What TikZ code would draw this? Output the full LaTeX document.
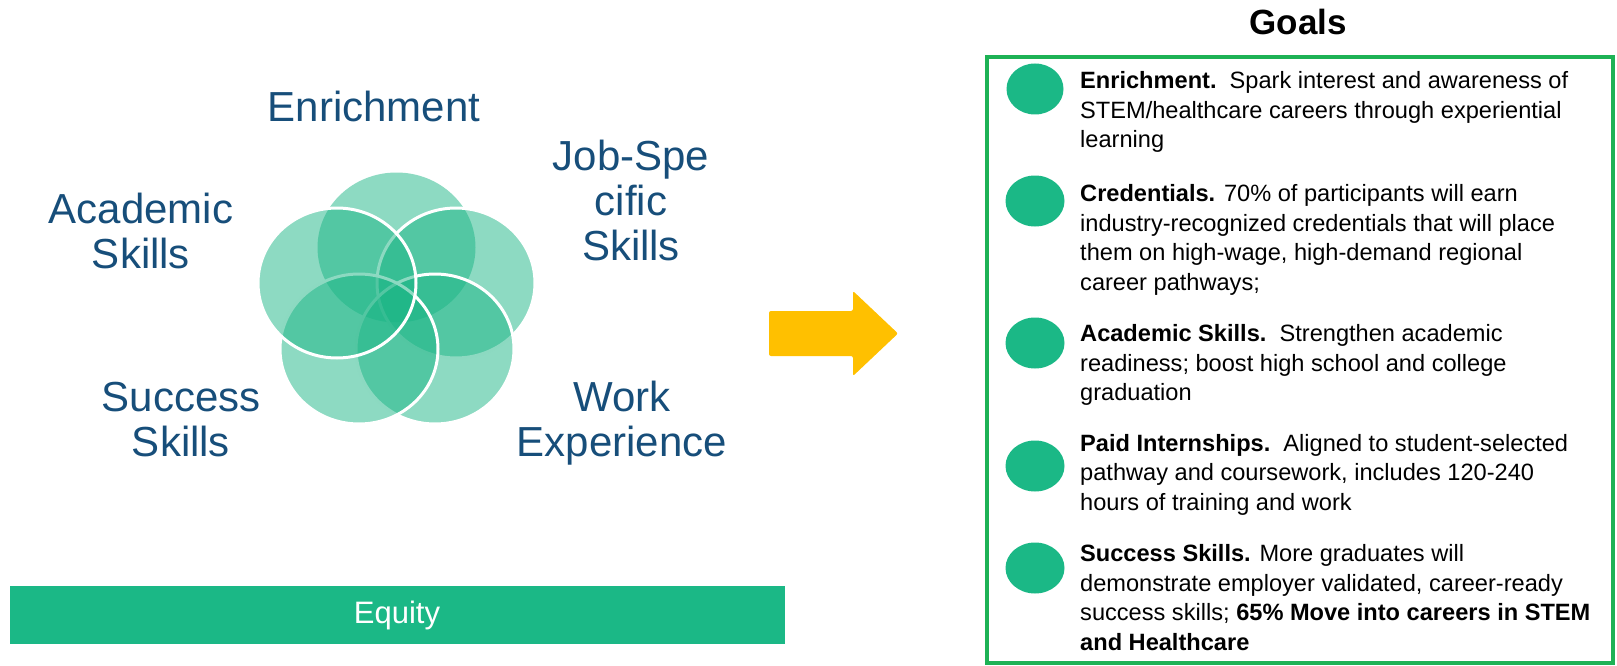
\documentclass[tikz,border=0pt]{standalone}
\usepackage{fontspec}
\setmainfont{Liberation Sans}
\usetikzlibrary{shapes.geometric}
\definecolor{venn}{RGB}{27,181,133}
\definecolor{bulletgreen}{RGB}{27,184,134}
\definecolor{boxgreen}{RGB}{29,178,85}
\definecolor{labelblue}{RGB}{23,78,122}
\definecolor{arrowgold}{RGB}{255,192,0}
\newcommand{\goalfont}{\fontsize{23.6}{29.5}\selectfont}
\newcommand{\labfont}{\fontsize{42}{45}\selectfont}
\begin{document}
\begin{tikzpicture}[x=1pt,y=-1pt,
  vcirc/.style={ellipse, inner sep=0pt, minimum width=158pt, minimum height=150pt, fill=venn, fill opacity=0.5},
  vborder/.style={draw=white, line width=3pt},
  lab/.style={anchor=base, inner sep=0pt, text=labelblue, font=\labfont},
  dot/.style={ellipse, inner sep=0pt, fill=bulletgreen, minimum width=57pt, minimum height=51pt},
  goal/.style={anchor=base west, inner sep=0pt, font=\goalfont}
]
\useasboundingbox (0,0) rectangle (1617,666);

% Venn flower
\node[vcirc] (cEnr) at (396.5,247.5) {};
\node[vcirc, vborder] (cJob) at (456,283) {};
\node[vcirc, vborder] (cWork) at (435,349) {};
\node[vcirc, vborder] (cSucc) at (359,349) {};
\node[vcirc, vborder] (cAcad) at (337,283) {};

% labels
\node[lab] (lEnr) at (374,122) {Enrichment};
\node[lab] (lJob) at (631,170) {\begin{tabular}[t]{@{}c@{}}Job-Spe\\cific\\Skills\end{tabular}};
\node[lab] (lAcad) at (141,223) {\begin{tabular}[t]{@{}c@{}}Academic\\Skills\end{tabular}};
\node[lab] (lSucc) at (181,411) {\begin{tabular}[t]{@{}c@{}}Success\\Skills\end{tabular}};
\node[lab] (lWork) at (622,411) {\begin{tabular}[t]{@{}c@{}}Work\\Experience\end{tabular}};

% equity bar
\node[fill=bulletgreen, inner sep=0pt, minimum width=775pt, minimum height=58pt, text=white, font=\fontsize{31}{36}\selectfont] (equity) at (397,615) {Equity};

% arrow
\fill[arrowgold, rounded corners=2pt] (769,311) -- (853,311) -- (853,291) -- (898,333.5) -- (853,376) -- (853,356) -- (769,356) -- cycle;

% goals title and box
\node[anchor=base, inner sep=0pt, font=\fontsize{35}{40}\selectfont\bfseries] (title) at (1298,35) {Goals};
\draw[boxgreen, line width=4pt] (987,57) rectangle (1613,663);

% bullets
\node[dot] (b1) at (1035,89) {};
\node[dot, minimum width=59pt] (b2) at (1035,201) {};
\node[dot, minimum width=59pt] (b3) at (1035,343) {};
\node[dot, minimum width=59pt] (b4) at (1035,466) {};
\node[dot, minimum width=59pt] (b5) at (1035,568) {};

% goal texts
\node[goal] (g1) at (1080,89) {\begin{tabular}[t]{@{}l@{}}\textbf{Enrichment.}\ \ Spark interest and awareness of\\STEM/healthcare careers through experiential\\learning\end{tabular}};
\node[goal] (g2) at (1080,201.5) {\begin{tabular}[t]{@{}l@{}}\textbf{Credentials.} 70\% of participants will earn\\industry-recognized credentials that will place\\them on high-wage, high-demand regional\\career pathways;\end{tabular}};
\node[goal] (g3) at (1080,341.5) {\begin{tabular}[t]{@{}l@{}}\textbf{Academic Skills.}\ \ Strengthen academic\\readiness; boost high school and college\\graduation\end{tabular}};
\node[goal] (g4) at (1080,451) {\begin{tabular}[t]{@{}l@{}}\textbf{Paid Internships.}\ \ Aligned to student-selected\\pathway and coursework, includes 120-240\\hours of training and work\end{tabular}};
\node[goal] (g5) at (1080,561.5) {\begin{tabular}[t]{@{}l@{}}\textbf{Success Skills.} More graduates will\\demonstrate employer validated, career-ready\\success skills; \textbf{65\% Move into careers in STEM}\\\textbf{and Healthcare}\end{tabular}};
\end{tikzpicture}
\end{document}
